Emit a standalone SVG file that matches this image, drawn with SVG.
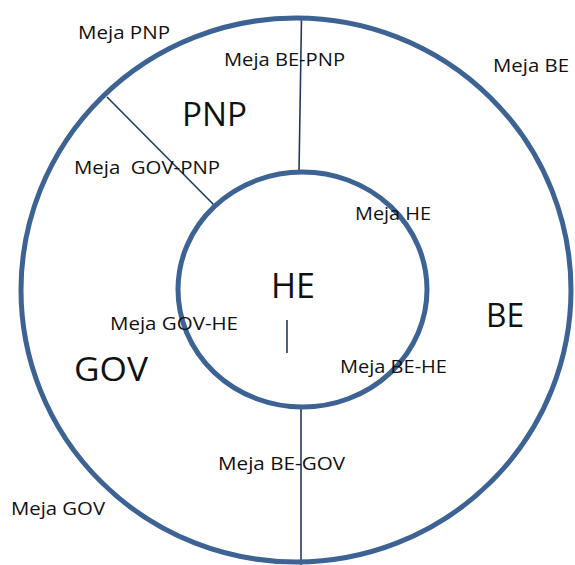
<svg xmlns="http://www.w3.org/2000/svg" width="575" height="565" viewBox="0 0 575 565">
<style>
.ring{fill:none;stroke:#3c6393;stroke-width:5}
.div{stroke:#1f3a60;stroke-width:1.6;fill:none}
.s{font-family:"Open Sans","Liberation Sans",sans-serif;font-size:18px;fill:#111}
.b{font-family:"Open Sans","Liberation Sans",sans-serif;font-size:32px;fill:#111}
</style>
<rect width="575" height="565" fill="#fff"/>
<g id="connectors">
<line class="div" x1="301.5" y1="18" x2="299" y2="172"/>
<line class="div" x1="107" y1="97" x2="215" y2="206"/>
<line class="div" x1="301" y1="407" x2="301" y2="565"/>
<line class="div" x1="287" y1="320" x2="287" y2="353"/>
</g>
<g id="outer"><ellipse class="ring" cx="296" cy="290" rx="275" ry="272"/></g>
<g id="inner"><ellipse class="ring" cx="302.5" cy="289.5" rx="124.5" ry="117.5"/></g>
<g id="PNP"><text class="b" x="182" y="126" textLength="65" lengthAdjust="spacingAndGlyphs">PNP</text></g>
<g id="HE"><text class="b" x="271" y="298" style="font-size:35px" textLength="44" lengthAdjust="spacingAndGlyphs">HE</text></g>
<g id="BE"><text class="b" x="486" y="327" textLength="38" lengthAdjust="spacingAndGlyphs">BE</text></g>
<g id="GOV"><text class="b" x="74" y="381" textLength="74" lengthAdjust="spacingAndGlyphs">GOV</text></g>
<g id="labels">
<text class="s" x="78" y="39" textLength="92" lengthAdjust="spacingAndGlyphs">Meja PNP</text>
<text class="s" x="224" y="66" textLength="121" lengthAdjust="spacingAndGlyphs">Meja BE-PNP</text>
<text class="s" x="493" y="72" textLength="76" lengthAdjust="spacingAndGlyphs">Meja BE</text>
<text class="s" x="74" y="174" textLength="146" lengthAdjust="spacingAndGlyphs" xml:space="preserve">Meja  GOV-PNP</text>
<text class="s" x="355" y="220" textLength="76" lengthAdjust="spacingAndGlyphs">Meja HE</text>
<text class="s" x="110" y="330" textLength="128" lengthAdjust="spacingAndGlyphs">Meja GOV-HE</text>
<text class="s" x="340" y="373" textLength="107" lengthAdjust="spacingAndGlyphs">Meja BE-HE</text>
<text class="s" x="218" y="470" textLength="127" lengthAdjust="spacingAndGlyphs">Meja BE-GOV</text>
<text class="s" x="11" y="515" textLength="94" lengthAdjust="spacingAndGlyphs">Meja GOV</text>
</g>
</svg>
